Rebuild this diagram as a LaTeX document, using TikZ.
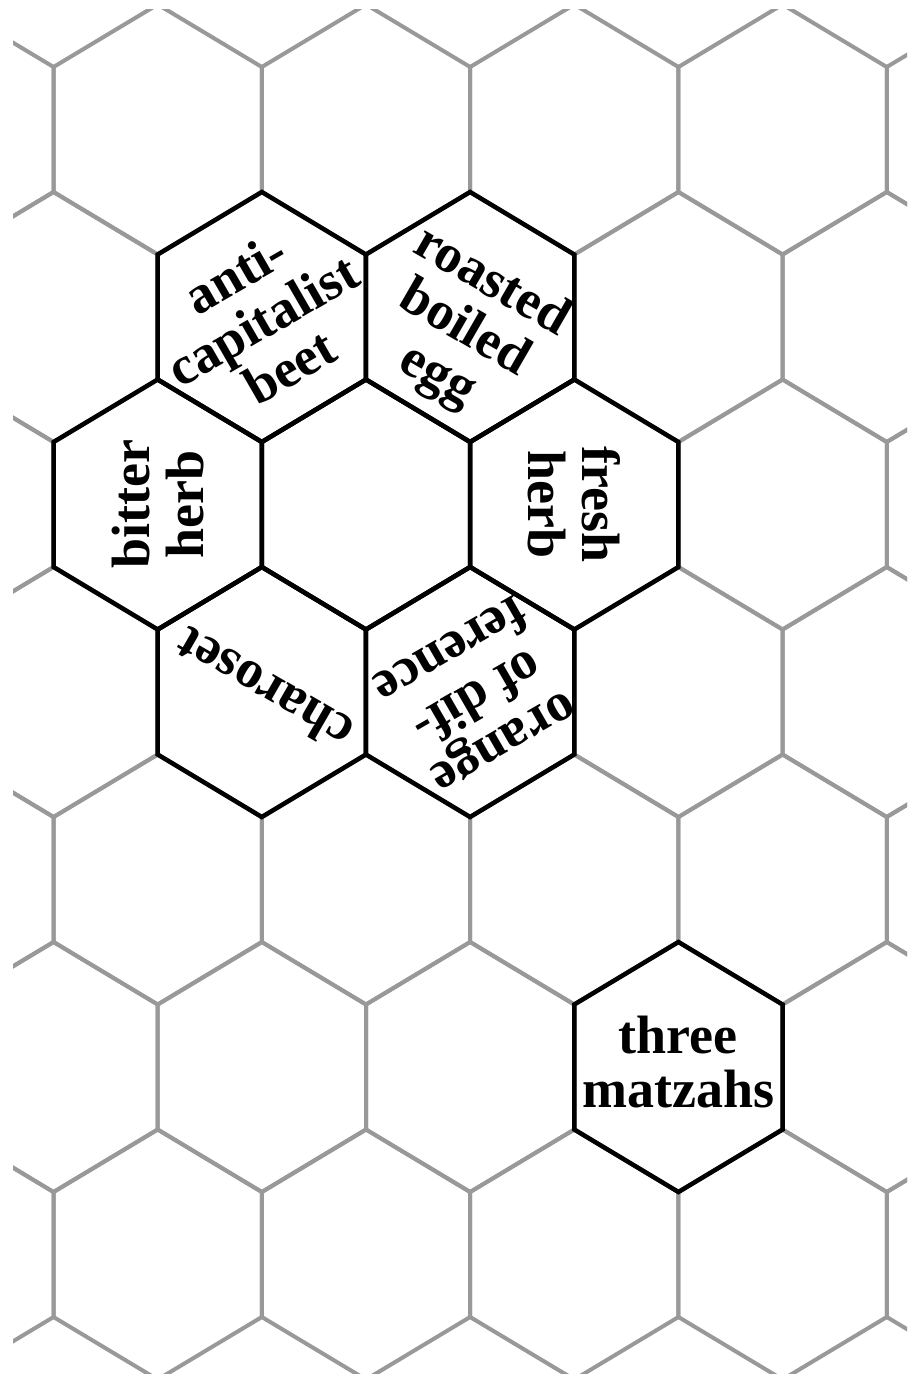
\documentclass[tikz,border=0pt]{standalone}
\usepackage{fontspec}
\setmainfont{Liberation Serif}
\definecolor{gridgray}{HTML}{999999}
\definecolor{ink}{HTML}{000000}
\newcommand{\hexhalf}{104.15}
% one pointy-top cell around (x,y), y counted downwards
\newcommand{\hexcell}[3][grid line]{%
  \draw[#1] (#2,#3-125) -- ++(\hexhalf,62.5) -- ++(0,125)
    -- ++(-\hexhalf,62.5) -- ++(-\hexhalf,-62.5) -- ++(0,-125) -- cycle;}
\tikzset{
  grid line/.style={
    draw=gridgray,
    line width=4pt
  },
  plate line/.style={
    draw=ink,
    line width=4.5pt
  },
  item/.style={
    font=\bfseries\fontsize{54}{54}\selectfont,
    text=ink,
    align=center,
    inner sep=0pt
  }
}
\begin{document}
\begin{tikzpicture}[x=1pt, y=-1pt]
\useasboundingbox (0,0) rectangle (922,1383);

% ---------------------------------------------------------------------------
% Background honeycomb
% ---------------------------------------------------------------------------
\begin{scope}
\clip (13,10) rectangle (907,1373);
\foreach \row in {0,...,6}{
  \foreach \col in {-1,...,4}{
    \pgfmathsetmacro{\cx}{157.7+208.3*\col-104.15*mod(\row,2)}
    \pgfmathsetmacro{\cy}{129.5+187.5*\row}
    \hexcell{\cx}{\cy}
  }
}
\end{scope}

% ---------------------------------------------------------------------------
% Seder plate cells
% ---------------------------------------------------------------------------
\hexcell[plate line]{261.8}{317}
\hexcell[plate line]{470.1}{317}
\hexcell[plate line]{157.7}{504.5}
\hexcell[plate line]{366.0}{504.5}
\hexcell[plate line]{574.3}{504.5}
\hexcell[plate line]{261.8}{692}
\hexcell[plate line]{470.1}{692}
\hexcell[plate line]{678.4}{1067}

% Labels face outwards from the middle cell.
\node[item, rotate=30] (beet) at (262.5,320) {anti-\\capitalist\\beet};
\node[item, rotate=-30] (egg) at (464,330) {roasted\\boiled\\egg};
\node[item, rotate=90] (bitter) at (157.7,504.5) {bitter\\herb};
\node[item, rotate=-90] (fresh) at (574.3,504.5) {fresh\\herb};
\node[item, rotate=150] (charoset) at (264,690) {charoset};
\node[item, rotate=-150] (orange) at (476,695) {orange\\of dif-\\ference};
\node[item] (matzahs) at (678.4,1062) {three\\matzahs};

\end{tikzpicture}
\end{document}
